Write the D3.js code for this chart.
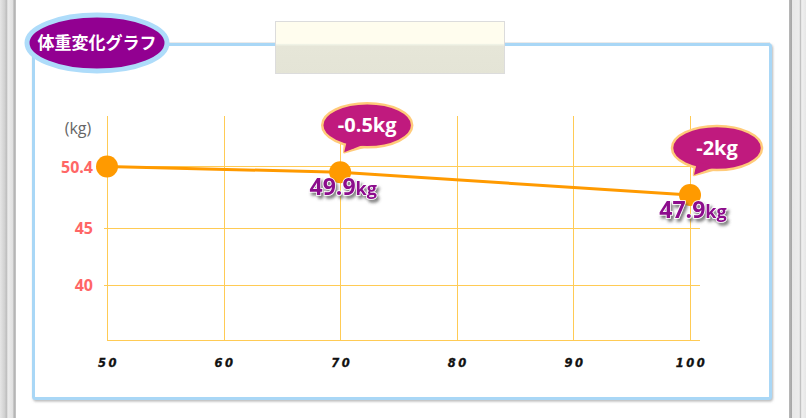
<!DOCTYPE html>
<html><head><meta charset="utf-8">
<script src="https://cdn.jsdelivr.net/npm/d3@7"></script>
<style>
html,body{margin:0;padding:0;background:#fff;}
svg{display:block;}
</style></head>
<body>
<svg id="c" width="806" height="418"></svg>
<script>
const title = "体重変化グラフ";
const xTicks = [50, 60, 70, 80, 90, 100];
const yTicks = [40, 45, 50.4];
const yTickLabels = ["40", "45", "50.4"];
const xValues = [50, 70, 100];
const weights = [50.4, 49.9, 47.9];
const diffs = [null, "-0.5kg", "-2kg"];
const yUnit = "(kg)";

const svg = d3.select("#c");
const defs = svg.append("defs");

function edgeBar(id, x, w, stops){
  const g = defs.append("linearGradient").attr("id", id).attr("x1","0").attr("x2","1");
  stops.forEach(s=>g.append("stop").attr("offset", s[0]).attr("stop-color", s[1]));
  svg.append("rect").attr("x", x).attr("y", 0).attr("width", w).attr("height", 418).attr("fill", `url(#${id})`);
}
edgeBar("gl", 0, 16, [[0,"#e6e6e6"],[0.3,"#d0d0d0"],[0.4,"#bdbdbd"],[0.5,"#ececec"],[0.8,"#e0e0e0"],[0.88,"#b0b0b0"],[1,"#c8c8c8"]]);
edgeBar("gr", 789, 17, [[0,"#b8b8b8"],[0.15,"#a8a8a8"],[0.2,"#e8e8e8"],[0.6,"#ececec"],[0.68,"#c0c0c0"],[0.75,"#f0f0f0"],[1,"#e6e6e6"]]);

const f = defs.append("filter").attr("id","sh").attr("x","-20%").attr("y","-20%").attr("width","140%").attr("height","160%");
f.append("feDropShadow").attr("dx",2).attr("dy",3).attr("stdDeviation",1.5).attr("flood-color","#555").attr("flood-opacity",0.75);
const f2 = defs.append("filter").attr("id","psh").attr("x","-5%").attr("y","-5%").attr("width","110%").attr("height","110%");
f2.append("feDropShadow").attr("dx",1).attr("dy",1.5).attr("stdDeviation",1).attr("flood-color","#888").attr("flood-opacity",0.6);

// panel
svg.append("line").attr("x1",34).attr("x2",770).attr("y1",43).attr("y2",43).attr("stroke","#d8d8d8").attr("stroke-width",1);
svg.append("rect").attr("x",33.5).attr("y",44.5).attr("width",737).attr("height",354)
  .attr("fill","#fff").attr("stroke","#a9d7f6").attr("stroke-width",3).attr("rx",2)
  .attr("filter","url(#psh)");

// tape
const tg = defs.append("linearGradient").attr("id","tape").attr("x1","0").attr("x2","0").attr("y1","0").attr("y2","1");
[[0,"#fffdee"],[0.42,"#fffdee"],[0.44,"#f0f3e6"],[0.48,"#e6e6d8"],[1,"#e4e4d6"]].forEach(s=>tg.append("stop").attr("offset",s[0]).attr("stop-color",s[1]));
svg.append("rect").attr("x",275.5).attr("y",21.5).attr("width",229).attr("height",52)
  .attr("fill","url(#tape)").attr("stroke","#dcdcdc").attr("stroke-width",1);

// title
svg.append("ellipse").attr("cx",97).attr("cy",43).attr("rx",70).attr("ry",28)
  .attr("fill","#920091").attr("stroke","#aedcfa").attr("stroke-width",5);
svg.append("text").attr("x",97).attr("y",49).attr("text-anchor","middle")
  .attr("font-family","'Noto Sans CJK JP', sans-serif").attr("font-weight","bold")
  .attr("font-size",17).attr("fill","#fff").text(title);

// scales
const x = d3.scaleLinear().domain([50,100]).range([107,690]);
const y = d3.scaleLinear().domain([35.18, 54.83]).range([340,116]);
const grid = "#ffcb55";

const gx = svg.append("g");
gx.selectAll("line.v").data(xTicks).join("line")
  .attr("x1",d=>Math.round(x(d))+0.5).attr("x2",d=>Math.round(x(d))+0.5)
  .attr("y1",116).attr("y2",340).attr("stroke",grid).attr("stroke-width",1);
gx.selectAll("line.h").data(yTicks).join("line")
  .attr("x1",104).attr("x2",700)
  .attr("y1",d=>Math.round(y(d))+0.5).attr("y2",d=>Math.round(y(d))+0.5)
  .attr("stroke",grid).attr("stroke-width",1);
gx.append("line").attr("x1",107).attr("x2",700).attr("y1",340.5).attr("y2",340.5).attr("stroke",grid);

const xAxis = d3.axisBottom(x).tickValues(xTicks).tickSize(0).tickPadding(0);
const ax = svg.append("g").attr("transform","translate(0,367)").call(xAxis);
ax.select(".domain").remove();
ax.selectAll("text").attr("font-family","'DejaVu Sans', sans-serif").attr("font-weight","900")
  .attr("font-style","italic").attr("font-size",11.5).attr("letter-spacing","2.5px").attr("fill","#111")
  .attr("stroke","#111").attr("stroke-width",0.3)
  .attr("dy",0).attr("dx",1);

const yAxis = d3.axisLeft(y).tickValues(yTicks).tickFormat((d,i)=>yTickLabels[i]).tickSize(0).tickPadding(0);
const ay = svg.append("g").attr("transform","translate(93,0)").call(yAxis);
ay.select(".domain").remove();
ay.selectAll("text").attr("font-family","'Open Sans', sans-serif").attr("font-weight","bold")
  .attr("font-size",16).attr("fill","#ff6666").attr("dy","0.35em");

svg.append("text").attr("x",78).attr("y",134).attr("text-anchor","middle")
  .attr("font-family","'Open Sans', sans-serif").attr("font-size",16).attr("fill","#666").text(yUnit);

// line + points
const data = xValues.map((v,i)=>({x:v, w:weights[i], d:diffs[i]}));
svg.append("path").datum(data)
  .attr("d", d3.line().x(d=>x(d.x)).y(d=>y(d.w)))
  .attr("fill","none").attr("stroke","#ff9a00").attr("stroke-width",3);
svg.selectAll("circle.p").data(data).join("circle")
  .attr("cx",d=>x(d.x)).attr("cy",d=>y(d.w)).attr("r",11).attr("fill","#ff9a00");

// value labels
data.slice(1).forEach(d=>{
  const t = svg.append("text").attr("x",x(d.x)+3).attr("y",y(d.w)+23).attr("text-anchor","middle")
    .attr("font-family","'Open Sans', sans-serif").attr("font-weight","bold")
    .attr("fill","#8c0a8c").attr("stroke","#fff").attr("stroke-width",1.5).attr("paint-order","stroke")
    .attr("filter","url(#sh)");
  t.append("tspan").attr("font-size",23).text(d3.format(".1f")(d.w));
  t.append("tspan").attr("font-size",18).text("kg");
});

// callouts
data.filter(d=>d.d).forEach(d=>{
  const px = x(d.x), py = y(d.w);
  const cx = px+27, cy = py-47;
  const g = svg.append("g");
  const rx=45, ry=22;
  const tail = `M${cx-22},${cy+ry-6} L${px+4},${py-20} L${cx+2},${cy+ry-2}`;
  g.append("path").attr("d",tail).attr("fill","#c01a7e").attr("stroke","#ffcb7a").attr("stroke-width",2.5).attr("stroke-linejoin","round");
  g.append("ellipse").attr("cx",cx).attr("cy",cy).attr("rx",rx).attr("ry",ry)
    .attr("fill","#c01a7e").attr("stroke","#ffcb7a").attr("stroke-width",2.5);
  g.append("path").attr("d",`M${cx-20},${cy+ry-8} L${px+4},${py-20} L${cx},${cy+ry-4} Z`).attr("fill","#c01a7e");
  g.append("text").attr("x",cx).attr("y",cy+7).attr("text-anchor","middle")
    .attr("font-family","'Open Sans', sans-serif").attr("font-weight","bold").attr("font-size",20)
    .attr("fill","#fff").text(d.d);
});
</script>
</body></html>
